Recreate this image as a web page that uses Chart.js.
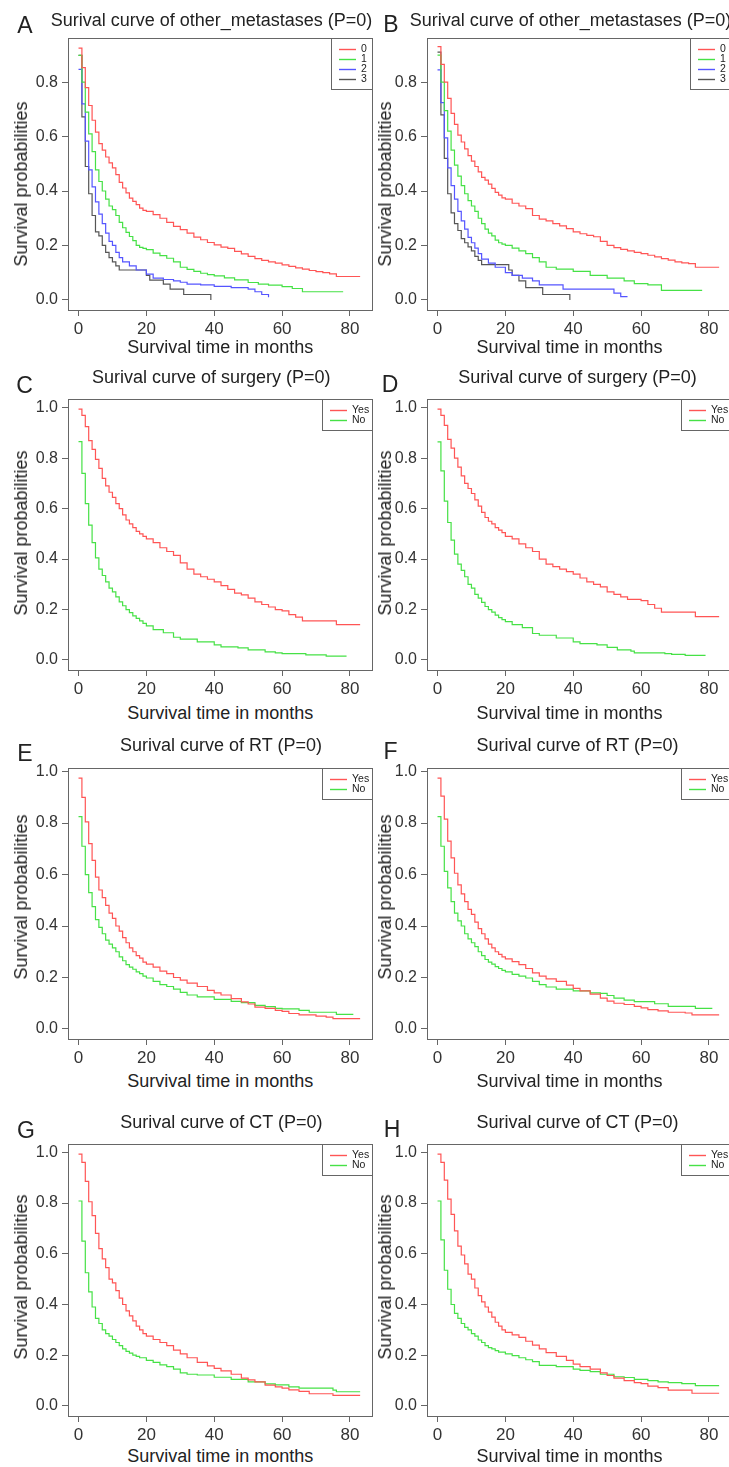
<!DOCTYPE html>
<html>
<head>
<meta charset="utf-8">
<script src="https://cdn.jsdelivr.net/npm/chart.js@4.4.1/dist/chart.umd.min.js"></script>
<style>
  html, body { margin: 0; padding: 0; background: #fff; }
  #page { position: relative; width: 729px; height: 1467px; overflow: hidden;
          font-family: "Liberation Sans", Arial, sans-serif; color: #222; }
  canvas { position: absolute; }
  .txt { position: absolute; white-space: nowrap; line-height: 1; transform: translate(-50%, -50%); }
  .letter { font-size: 23px; }
  .title, .xlab { font-size: 18px; }
  .ylab { font-size: 18px; transform: translate(-50%, -50%) rotate(-90deg); }
</style>
</head>
<body>
<div id="page"></div>
<script>
// ---- data (months, survival probability) ----
const xTicks = [0, 20, 40, 60, 80];
const yTicksShort = [0, 0.2, 0.4, 0.6, 0.8];
const yTicksFull = [0, 0.2, 0.4, 0.6, 0.8, 1.0];
const groupLabels = ['0', '1', '2', '3'];
const yesNoLabels = ['Yes', 'No'];

// A: other_metastases
const monthsA0 = [0,1,2,3,4,5,6,7,8,9,10,11,12,13,14,15,16,17,18,19,20,22,24,26,28,30,32,34,36,38,40,42,44,46,48,50,52,54,56,58,60,62,64,66,68,70,72,74,76,83];
const survA0 = [0.925,0.853,0.78,0.714,0.66,0.616,0.574,0.55,0.525,0.503,0.485,0.46,0.432,0.411,0.393,0.374,0.362,0.35,0.337,0.329,0.325,0.313,0.30,0.285,0.27,0.258,0.245,0.231,0.221,0.211,0.202,0.194,0.189,0.178,0.169,0.16,0.152,0.145,0.14,0.135,0.129,0.123,0.118,0.113,0.108,0.104,0.1,0.096,0.086,0.086];
const monthsA1 = [0,1,2,3,4,5,6,7,8,9,10,11,12,13,14,15,16,17,18,19,20,22,24,26,28,30,32,34,36,38,40,43,46,50,53,56,60,63,66,78];
const survA1 = [0.898,0.80,0.69,0.61,0.545,0.478,0.435,0.40,0.37,0.345,0.332,0.31,0.285,0.265,0.248,0.233,0.218,0.20,0.193,0.189,0.185,0.172,0.163,0.153,0.14,0.12,0.112,0.105,0.098,0.093,0.088,0.081,0.074,0.064,0.058,0.054,0.049,0.042,0.03,0.03];
const monthsA2 = [0,1,2,3,4,5,6,7,8,9,10,11,12,13,15,17,20,22,25,28,30,32,36,40,45,50,52,54,56];
const survA2 = [0.847,0.72,0.583,0.478,0.415,0.36,0.315,0.28,0.245,0.215,0.2,0.175,0.155,0.14,0.125,0.11,0.095,0.08,0.075,0.07,0.065,0.058,0.055,0.05,0.045,0.04,0.03,0.02,0.01];
const monthsA3 = [0,1,2,3,4,5,6,7,8,9,10,11,12,20,21,25,27,31,39];
const survA3 = [0.898,0.672,0.49,0.39,0.31,0.25,0.235,0.2,0.175,0.155,0.14,0.125,0.11,0.09,0.073,0.058,0.04,0.02,0];

// B: other_metastases
const monthsB0 = [0,1,2,3,4,5,6,7,8,9,10,11,12,13,14,15,16,17,18,19,20,22,24,26,28,30,32,34,36,38,40,42,44,46,48,50,52,54,56,58,60,62,64,66,68,70,72,74,76,83];
const survB0 = [0.93,0.865,0.80,0.74,0.685,0.645,0.605,0.58,0.555,0.53,0.51,0.49,0.47,0.45,0.44,0.425,0.41,0.395,0.385,0.375,0.37,0.355,0.345,0.335,0.31,0.297,0.29,0.28,0.272,0.262,0.25,0.243,0.237,0.232,0.215,0.2,0.192,0.186,0.18,0.175,0.17,0.164,0.158,0.152,0.146,0.14,0.136,0.133,0.12,0.12];
const monthsB1 = [0,1,2,3,4,5,6,7,8,9,10,11,12,13,14,15,16,17,18,19,20,22,24,26,28,30,32,35,40,45,50,55,58,62,66,78];
const survB1 = [0.899,0.80,0.695,0.62,0.55,0.495,0.455,0.42,0.39,0.365,0.345,0.325,0.3,0.28,0.26,0.245,0.235,0.22,0.21,0.205,0.2,0.19,0.18,0.17,0.155,0.14,0.12,0.113,0.105,0.09,0.08,0.07,0.06,0.055,0.035,0.035];
const monthsB2 = [0,1,2,3,4,5,6,7,8,9,10,11,12,13,15,17,20,22,25,28,30,37,52,54,56];
const survB2 = [0.845,0.725,0.595,0.485,0.42,0.37,0.325,0.29,0.26,0.23,0.21,0.19,0.17,0.15,0.135,0.12,0.1,0.09,0.08,0.07,0.055,0.04,0.025,0.012,0.012];
const monthsB3 = [0,1,2,3,4,5,6,7,8,9,10,11,12,13,21,22,24,26,31,39];
const survB3 = [0.91,0.68,0.52,0.39,0.32,0.28,0.255,0.225,0.21,0.195,0.18,0.16,0.145,0.13,0.11,0.09,0.07,0.045,0.02,0];

// C: surgery
const monthsC0 = [0,1,2,3,4,5,6,7,8,9,10,11,12,13,14,15,16,17,18,19,20,22,24,26,28,30,32,34,36,38,40,42,44,46,48,50,52,54,56,58,60,62,64,66,76,83];
const survC0 = [0.995,0.97,0.925,0.87,0.835,0.795,0.76,0.72,0.69,0.665,0.645,0.62,0.6,0.575,0.555,0.54,0.525,0.51,0.5,0.49,0.48,0.465,0.445,0.43,0.415,0.385,0.36,0.34,0.33,0.32,0.31,0.295,0.28,0.265,0.258,0.245,0.23,0.22,0.21,0.2,0.195,0.18,0.17,0.155,0.14,0.14];
const monthsC1 = [0,1,2,3,4,5,6,7,8,9,10,11,12,13,14,15,16,17,18,19,20,22,25,28,30,35,40,42,47,50,55,58,60,67,73,79];
const survC1 = [0.866,0.74,0.62,0.535,0.465,0.405,0.36,0.335,0.31,0.285,0.27,0.25,0.23,0.215,0.2,0.188,0.175,0.165,0.155,0.145,0.135,0.12,0.108,0.09,0.083,0.072,0.06,0.052,0.048,0.04,0.032,0.028,0.025,0.02,0.015,0.015];

// D: surgery
const monthsD0 = [0,1,2,3,4,5,6,7,8,9,10,11,12,13,14,15,16,17,18,19,20,22,24,26,28,30,32,34,36,38,40,42,44,46,48,50,52,54,56,58,60,62,64,66,76,83];
const survD0 = [0.995,0.97,0.93,0.875,0.84,0.8,0.765,0.73,0.7,0.68,0.66,0.635,0.61,0.585,0.565,0.55,0.54,0.525,0.515,0.505,0.49,0.48,0.46,0.445,0.43,0.4,0.38,0.37,0.36,0.35,0.34,0.325,0.31,0.3,0.29,0.27,0.26,0.25,0.24,0.24,0.235,0.22,0.205,0.19,0.172,0.172];
const monthsD1 = [0,1,2,3,4,5,6,7,8,9,10,11,12,13,14,15,16,17,18,19,20,22,25,28,30,35,40,42,47,50,53,57,58,67,69,73,79];
const survD1 = [0.865,0.75,0.63,0.545,0.475,0.42,0.38,0.355,0.33,0.3,0.285,0.26,0.245,0.228,0.212,0.2,0.19,0.178,0.168,0.16,0.152,0.14,0.128,0.105,0.098,0.087,0.072,0.065,0.06,0.05,0.04,0.035,0.028,0.025,0.022,0.018,0.018];

// E: RT
const monthsE0 = [0,1,2,3,4,5,6,7,8,9,10,11,12,13,14,15,16,17,18,19,20,22,24,26,28,30,32,35,38,40,42,45,48,50,52,55,58,60,62,65,70,73,75,83];
const survE0 = [0.975,0.9,0.805,0.72,0.655,0.59,0.54,0.51,0.48,0.45,0.43,0.4,0.38,0.355,0.335,0.315,0.3,0.285,0.275,0.26,0.252,0.24,0.225,0.215,0.2,0.19,0.178,0.165,0.15,0.14,0.132,0.118,0.105,0.097,0.085,0.08,0.072,0.068,0.06,0.055,0.05,0.046,0.04,0.04];
const monthsE1 = [0,1,2,3,4,5,6,7,8,9,10,11,12,13,14,15,16,17,18,19,20,22,24,26,28,30,32,35,40,45,48,52,55,58,60,65,68,76,81];
const survE1 = [0.825,0.71,0.6,0.53,0.475,0.425,0.395,0.37,0.345,0.33,0.315,0.3,0.28,0.265,0.25,0.24,0.232,0.222,0.215,0.205,0.198,0.185,0.172,0.165,0.155,0.142,0.132,0.125,0.115,0.107,0.102,0.092,0.087,0.08,0.078,0.072,0.065,0.057,0.057];

// F: RT
const monthsF0 = [0,1,2,3,4,5,6,7,8,9,10,11,12,13,14,15,16,17,18,19,20,22,24,26,28,30,32,35,38,40,42,45,48,50,52,55,58,60,62,65,68,73,75,83];
const survF0 = [0.975,0.905,0.815,0.73,0.665,0.605,0.56,0.525,0.495,0.465,0.445,0.415,0.39,0.37,0.35,0.33,0.315,0.3,0.29,0.28,0.272,0.262,0.25,0.235,0.218,0.205,0.195,0.185,0.17,0.158,0.148,0.135,0.12,0.108,0.1,0.095,0.088,0.082,0.075,0.07,0.065,0.062,0.055,0.055];
const monthsF1 = [0,1,2,3,4,5,6,7,8,9,10,11,12,13,14,15,16,17,18,19,20,22,24,26,28,30,32,35,40,45,48,50,52,55,58,64,68,76,81];
const survF1 = [0.825,0.71,0.612,0.548,0.495,0.45,0.42,0.4,0.37,0.35,0.335,0.32,0.3,0.285,0.27,0.26,0.252,0.242,0.235,0.228,0.222,0.212,0.205,0.198,0.185,0.172,0.163,0.155,0.148,0.14,0.138,0.13,0.12,0.112,0.106,0.098,0.088,0.08,0.08];

// G: CT
const monthsG0 = [0,1,2,3,4,5,6,7,8,9,10,11,12,13,14,15,16,17,18,19,20,22,24,26,28,30,32,35,38,40,42,45,48,50,52,55,58,60,62,65,68,75,83];
const survG0 = [0.993,0.96,0.885,0.805,0.75,0.68,0.62,0.58,0.545,0.5,0.485,0.455,0.425,0.4,0.375,0.355,0.335,0.315,0.3,0.285,0.275,0.262,0.25,0.238,0.22,0.205,0.19,0.172,0.158,0.148,0.138,0.125,0.11,0.103,0.095,0.082,0.075,0.07,0.063,0.057,0.048,0.042,0.042];
const monthsG1 = [0,1,2,3,4,5,6,7,8,9,10,11,12,13,14,15,16,17,18,20,22,24,26,28,30,32,35,40,45,50,55,58,62,65,75,76,83];
const survG1 = [0.808,0.65,0.525,0.45,0.39,0.345,0.325,0.3,0.285,0.275,0.262,0.25,0.238,0.225,0.215,0.208,0.2,0.195,0.19,0.18,0.172,0.162,0.155,0.145,0.13,0.125,0.122,0.113,0.105,0.095,0.087,0.083,0.075,0.07,0.062,0.056,0.056];

// H: CT
const monthsH0 = [0,1,2,3,4,5,6,7,8,9,10,11,12,13,14,15,16,17,18,19,20,22,24,26,28,30,32,35,38,40,42,45,48,50,52,55,58,60,62,65,68,75,83];
const survH0 = [0.993,0.96,0.89,0.815,0.755,0.69,0.63,0.595,0.56,0.52,0.5,0.465,0.435,0.41,0.39,0.37,0.35,0.33,0.315,0.3,0.29,0.28,0.27,0.255,0.24,0.225,0.21,0.195,0.18,0.165,0.155,0.145,0.13,0.12,0.11,0.1,0.092,0.088,0.078,0.072,0.062,0.05,0.05];
const monthsH1 = [0,1,2,3,4,5,6,7,8,9,10,11,12,13,14,15,16,17,18,20,22,24,26,28,30,35,40,42,45,48,52,55,58,62,65,68,72,76,83];
const survH1 = [0.808,0.655,0.535,0.46,0.4,0.365,0.345,0.325,0.31,0.3,0.285,0.275,0.26,0.25,0.238,0.23,0.225,0.218,0.212,0.205,0.198,0.19,0.182,0.175,0.16,0.155,0.145,0.14,0.135,0.125,0.115,0.112,0.105,0.1,0.095,0.092,0.088,0.08,0.08];

// ---- layout ----
const PAD = 14, XH = 30;
const colX = [0, 360], plotL = [68, 427], plotR = [372, 731];
const rowTop = [38, 399, 768, 1144], rowBot = [310, 670, 1039, 1416];
const yRange = [[-0.037, 0.962], [-0.0398, 1.0348], [-0.039, 1.014], [-0.0397, 1.0327]];
const lineColors = ['rgb(255,85,85)', 'rgb(70,225,70)', 'rgb(85,85,255)', 'rgb(85,85,85)'];

const panels = [
  { L: 'A', c: 0, r: 0, title: 'Surival curve of other_metastases (P=0)', t: [211.5, 20], lt: [25, 25],
    m: [monthsA0, monthsA1, monthsA2, monthsA3], s: [survA0, survA1, survA2, survA3], labels: groupLabels, yt: yTicksShort, lw: 41 },
  { L: 'B', c: 1, r: 0, title: 'Surival curve of other_metastases (P=0)', t: [570.5, 20], lt: [391, 24],
    m: [monthsB0, monthsB1, monthsB2, monthsB3], s: [survB0, survB1, survB2, survB3], labels: groupLabels, yt: yTicksShort, lw: 41 },
  { L: 'C', c: 0, r: 1, title: 'Surival curve of surgery (P=0)', t: [211.3, 376.7], lt: [24.5, 384.5],
    m: [monthsC0, monthsC1], s: [survC0, survC1], labels: yesNoLabels, yt: yTicksFull, lw: 50 },
  { L: 'D', c: 1, r: 1, title: 'Surival curve of surgery (P=0)', t: [577.5, 377.3], lt: [390, 383.5],
    m: [monthsD0, monthsD1], s: [survD0, survD1], labels: yesNoLabels, yt: yTicksFull, lw: 50 },
  { L: 'E', c: 0, r: 2, title: 'Surival curve of RT (P=0)', t: [221, 745], lt: [25, 752.5],
    m: [monthsE0, monthsE1], s: [survE0, survE1], labels: yesNoLabels, yt: yTicksFull, lw: 50 },
  { L: 'F', c: 1, r: 2, title: 'Surival curve of RT (P=0)', t: [577.5, 745], lt: [390.5, 751],
    m: [monthsF0, monthsF1], s: [survF0, survF1], labels: yesNoLabels, yt: yTicksFull, lw: 50 },
  { L: 'G', c: 0, r: 3, title: 'Surival curve of CT (P=0)', t: [221.3, 1122], lt: [26, 1129.5],
    m: [monthsG0, monthsG1], s: [survG0, survG1], labels: yesNoLabels, yt: yTicksFull, lw: 50 },
  { L: 'H', c: 1, r: 3, title: 'Surival curve of CT (P=0)', t: [577.5, 1121.7], lt: [392, 1128.5],
    m: [monthsH0, monthsH1], s: [survH0, survH1], labels: yesNoLabels, yt: yTicksFull, lw: 50 },
];
const ylabX = [20.5, 384.5], ylabY = [184, 532.5, 896.7, 1276.7];
const xlabX = [220.3, 569.5], xlabY = [347, 712.7, 1080.7, 1456];

Chart.defaults.font.family = '"Liberation Sans", Arial, sans-serif';

const page = document.getElementById('page');
function addText(cls, text, x, y) {
  const d = document.createElement('div');
  d.className = 'txt ' + cls;
  d.textContent = text;
  d.style.left = x + 'px';
  d.style.top = y + 'px';
  page.appendChild(d);
}

// plot frame (R-style box round the plot region)
const boxPlugin = {
  id: 'box',
  afterDraw(chart) {
    const { ctx, chartArea: a } = chart;
    ctx.save();
    ctx.strokeStyle = '#666';
    ctx.lineWidth = 1;
    ctx.strokeRect(Math.round(a.left) + 0.5, Math.round(a.top) + 0.5,
      Math.round(a.right - a.left), Math.round(a.bottom - a.top));
    ctx.restore();
  }
};

// topright legend box like R's legend()
const kmLegend = {
  id: 'kmLegend',
  afterDraw(chart, args, opts) {
    const { ctx, chartArea: a } = chart;
    const sets = chart.data.datasets;
    const w = opts.width, h = 11 + 10 * sets.length;
    const x0 = Math.round(a.right - w), y0 = Math.round(a.top);
    ctx.save();
    ctx.fillStyle = '#fff';
    ctx.fillRect(x0, y0, w, h);
    ctx.strokeStyle = '#666';
    ctx.lineWidth = 1;
    ctx.strokeRect(x0 + 0.5, y0 + 0.5, w, h);
    ctx.font = '10.5px "Liberation Sans", Arial, sans-serif';
    ctx.textBaseline = 'middle';
    sets.forEach((ds, i) => {
      const y = y0 + 11 + 10 * i;
      ctx.strokeStyle = lineColors[i];
      ctx.lineWidth = 1.4;
      ctx.beginPath();
      ctx.moveTo(x0 + 8, y + 0.5);
      ctx.lineTo(x0 + 25, y + 0.5);
      ctx.stroke();
      ctx.fillStyle = '#222';
      ctx.fillText(ds.label, x0 + 30, y + 0.5);
    });
    ctx.restore();
  }
};

panels.forEach((p) => {
  const left = colX[p.c];
  const top = rowTop[p.r] - PAD;
  const width = plotR[p.c] - left + PAD;
  const height = rowBot[p.r] - rowTop[p.r] + PAD + XH;
  const cv = document.createElement('canvas');
  cv.width = width; cv.height = height;
  cv.style.left = left + 'px'; cv.style.top = top + 'px';
  cv.style.width = width + 'px'; cv.style.height = height + 'px';
  page.appendChild(cv);

  addText('letter', p.L, p.lt[0], p.lt[1]);
  addText('title', p.title, p.t[0], p.t[1]);
  addText('xlab', 'Survival time in months', xlabX[p.c], xlabY[p.r]);
  addText('ylab', 'Survival probabilities', ylabX[p.c], ylabY[p.r]);

  const datasets = p.m.map((months, i) => ({
    label: p.labels[i],
    data: months.map((t, k) => ({ x: t, y: p.s[i][k] })),
    borderColor: lineColors[i],
    borderWidth: 1.2,
    stepped: true,
    pointRadius: 0,
    fill: false,
  }));
  const yw = plotL[p.c] - left;

  new Chart(cv, {
    type: 'line',
    data: { datasets },
    options: {
      responsive: false,
      animation: false,
      devicePixelRatio: 1,
      layout: { padding: { top: PAD, right: PAD, bottom: 0, left: 0 } },
      plugins: { legend: { display: false }, tooltip: { enabled: false }, kmLegend: { width: p.lw } },
      scales: {
        x: {
          type: 'linear', min: -3.1, max: 86.5,
          afterBuildTicks: (s) => { s.ticks = xTicks.map((v) => ({ value: v })); },
          afterFit: (s) => { s.height = XH; },
          border: { display: false },
          grid: { drawOnChartArea: false, tickLength: 6, color: '#666' },
          ticks: { autoSkip: false, maxRotation: 0, padding: 3, color: '#333', font: { size: 17 }, callback: (v) => String(v) },
        },
        y: {
          min: yRange[p.r][0], max: yRange[p.r][1],
          afterBuildTicks: (s) => { s.ticks = p.yt.map((v) => ({ value: v })); },
          afterFit: (s) => { s.width = yw; },
          border: { display: false },
          grid: { drawOnChartArea: false, tickLength: 6, color: '#666' },
          ticks: { autoSkip: false, padding: 4, color: '#333', font: { size: 16 }, callback: (v) => v.toFixed(1) },
        },
      },
    },
    plugins: [boxPlugin, kmLegend],
  });
});
</script>
</body>
</html>
